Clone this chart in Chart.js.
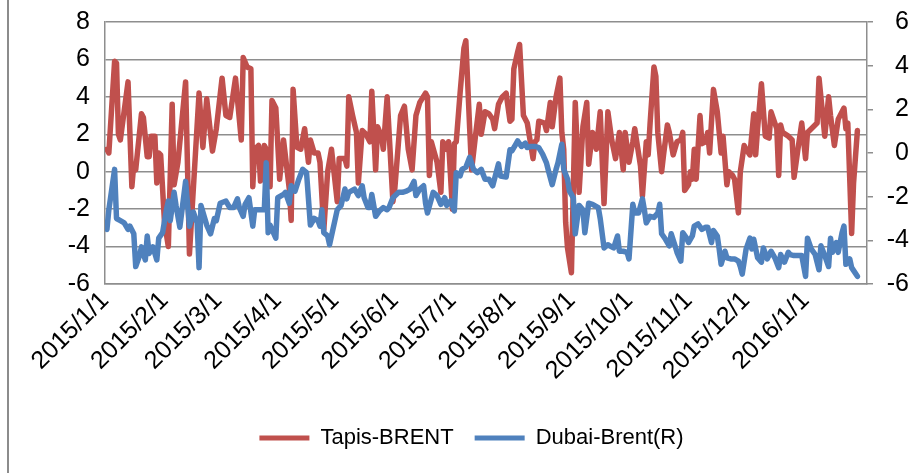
<!DOCTYPE html>
<html><head><meta charset="utf-8">
<script src="https://cdn.jsdelivr.net/npm/chart.js@4.4.1/dist/chart.umd.min.js"></script>
<style>html,body{margin:0;padding:0;background:#fff;}#wrap{position:relative;width:922px;height:473px;}</style>
</head><body><div id="wrap"><canvas id="c" width="922" height="473"></canvas></div>
<script>
// x axis: days since 2015/1/1
const monthDays = [0,31,59,90,120,151,181,212,243,273,304,334,365];
const monthLabels = ['2015/1/1','2015/2/1','2015/3/1','2015/4/1','2015/5/1','2015/6/1','2015/7/1','2015/8/1','2015/9/1','2015/10/1','2015/11/1','2015/12/1','2016/1/1'];
const leftTicks = [-6,-4,-2,0,2,4,6,8];
const rightTicks = [-6,-4,-2,0,2,4,6];

const tapisDays = [
 1,2,5,6,7,8,12,14,15,16,19,20,22,23,24,26,27,28,29,31,33,35,36,38,42,44,49,51,53,
 56,58,61,63,65,68,71,72,74,76,77,78,80,81,83,84,86,87,89,91,93,96,97,98,100,102,104,106,107,109,111,
 112,114,116,118,121,122,125,126,127,129,131,132,134,136,138,139,141,142,144,145,147,150,151,154,156,158,160,162,164,167,
 168,169,170,173,175,176,178,179,181,182,183,185,187,188,190,191,193,195,196,198,200,202,203,205,207,209,211,212,213,215,216,218,220,223,
 224,225,226,229,230,232,233,235,237,238,239,240,241,243,245,247,249,251,252,254,256,258,260,262,264,266,268,270,271,273,275,276,279,
 280,282,283,284,286,287,288,290,291,293,294,296,298,300,301,302,304,305,306,307,308,310,311,313,314,315,317,319,321,322,324,325,327,328,330,331,333,334,
 336,338,339,340,342,344,346,347,349,350,351,352,353,356,358,359,361,363,365,366,368,371,372,375,377,378,380,382,385,386,387,389,390,392
];
const tapisValues = [
 1.2,1.0,5.9,5.8,2.0,1.7,4.8,-0.8,0.4,0.1,3.1,2.9,0.8,0.8,1.9,1.9,-0.6,1.0,0.9,-2.7,-4.0,3.6,-0.7,0.5,4.8,-4.4,4.2,1.3,3.9,
 1.1,2.3,5.0,3.0,2.9,5.0,1.7,6.1,5.6,5.5,-0.8,1.2,1.4,-0.5,1.4,1.2,-0.8,3.8,3.4,-0.4,1.7,-0.9,-2.6,4.4,1.3,1.2,2.3,0.5,1.7,1.0,1.0,
 0.5,-3.1,0.0,1.2,-1.6,0.7,0.7,0.3,4.0,3.0,2.1,-0.6,2.2,2.0,1.6,4.3,0.1,2.4,1.9,1.2,4.0,-1.6,-0.9,3.0,3.5,1.2,0.1,3.0,3.7,4.2,
 4.0,-0.2,1.6,0.5,-1.1,1.6,1.2,1.6,-2.0,1.5,1.6,4.2,6.6,7.0,2.3,0.1,1.9,3.6,2.0,3.2,3.1,2.8,2.3,3.6,4.0,4.2,2.7,2.8,5.5,6.4,6.8,3.0,2.6,0.7,
 1.6,1.7,2.7,2.6,2.2,3.7,2.4,4.0,5.0,2.1,1.2,-2.7,-4.1,-5.4,3.7,-1.1,2.4,3.7,0.4,2.1,1.2,3.2,-1.7,3.2,1.7,0.7,2.1,0.1,2.1,0.5,1.6,2.3,0.3,
 -1.3,1.6,0.9,2.6,5.6,5.1,2.1,0.0,0.9,2.5,2.1,0.9,1.6,1.7,2.1,-1.0,-0.7,0.0,-0.4,1.2,-0.4,3.0,1.5,1.6,2.1,1.0,4.4,3.2,1.0,1.9,-0.7,0.0,-0.2,-0.4,-2.2,0.0,1.4,1.2,
 0.9,3.1,0.9,2.3,4.7,1.9,1.8,3.2,2.6,2.3,-0.2,2.5,2.1,1.9,1.7,-0.3,1.2,2.6,0.7,2.1,2.3,2.6,5.0,1.9,4.0,3.0,1.4,2.8,3.4,2.3,2.6,-3.3,-0.6,2.2
];

const dubaiDays = [
 1,2,5,6,8,10,12,13,15,16,18,19,21,22,23,25,27,28,30,32,33,34,36,37,39,42,44,46,48,49,50,52,53,
 55,57,58,60,63,65,67,69,70,72,73,75,77,78,80,83,84,85,86,89,90,93,94,96,97,99,101,103,105,107,109,111,
 112,113,114,116,117,120,121,123,125,126,127,130,132,134,135,137,138,139,141,143,145,147,148,150,153,155,157,159,161,162,164,166,
 167,168,171,173,175,177,178,180,182,183,185,186,188,190,192,194,196,198,200,202,205,206,209,211,212,214,215,217,219,220,222,
 224,226,228,230,231,233,235,236,238,239,241,242,244,245,247,249,250,252,254,257,258,260,262,263,265,267,268,270,272,273,275,276,278,
 280,281,282,284,286,288,289,290,292,294,295,297,298,300,301,303,304,306,307,309,311,313,314,316,317,319,320,321,323,324,326,328,330,331,332,334,
 336,337,338,340,342,343,345,347,349,351,352,354,356,357,359,361,363,365,366,368,370,372,373,375,377,378,379,381,382,384,385,386,388,389,392
];
const dubaiValues = [
 -3.5,-2.6,-0.75,-3.0,-3.1,-3.2,-3.5,-3.35,-3.7,-5.2,-4.7,-4.3,-4.9,-3.8,-4.6,-4.3,-4.9,-3.9,-3.65,-2.6,-2.2,-3.1,-1.8,-2.4,-3.4,-1.3,-3.35,-2.7,-3.2,-5.25,-2.4,-3.0,-3.3,
 -3.7,-3.0,-3.1,-2.3,-2.2,-2.5,-2.5,-2.1,-2.5,-2.9,-2.35,-2.05,-3.35,-2.6,-2.6,-2.6,-0.45,-3.65,-3.3,-3.9,-2.05,-1.9,-1.8,-2.3,-1.5,-1.75,-1.2,-0.75,-0.9,-3.3,-3.0,-3.1,
 -3.35,-2.6,-3.65,-3.8,-4.2,-3.0,-2.6,-2.4,-1.65,-2.1,-1.8,-1.65,-1.95,-1.5,-2.05,-2.5,-2.5,-1.9,-2.9,-2.65,-2.5,-2.6,-2.5,-2.05,-1.8,-1.8,-1.75,-1.65,-1.3,-1.95,-1.65,-1.5,
 -2.3,-2.75,-1.8,-1.95,-2.35,-2.05,-2.4,-2.2,-2.65,-0.9,-1.05,-0.75,-0.65,-0.2,-0.75,-0.9,-0.75,-1.2,-1.2,-1.5,-0.5,-1.05,-1.1,0.15,0.1,0.4,0.55,0.3,0.45,0.25,0.3,
 0.3,0.25,-0.05,-0.45,-0.8,-1.45,-0.75,-0.45,0.4,-0.75,-1.2,-1.75,-2.05,-3.7,-2.4,-2.6,-3.65,-2.3,-2.35,-2.5,-3.0,-4.35,-4.2,-4.25,-4.35,-3.8,-4.5,-4.5,-4.55,-4.85,-2.35,-2.75,-2.75,
 -2.1,-2.6,-3.2,-2.9,-2.95,-2.75,-2.35,-3.7,-3.95,-4.25,-3.7,-4.25,-4.55,-4.95,-3.65,-3.9,-4.1,-3.8,-3.35,-3.25,-3.5,-3.4,-3.4,-4.1,-3.55,-3.8,-4.4,-5.1,-4.5,-4.8,-4.85,-4.85,-4.95,-5.2,-5.55,-4.4,
 -3.9,-4.4,-3.95,-4.8,-5.0,-4.35,-4.85,-4.5,-4.8,-5.25,-4.65,-5.0,-4.55,-4.65,-4.7,-4.7,-4.7,-5.65,-3.9,-4.4,-4.65,-5.35,-4.25,-4.7,-5.2,-3.9,-4.55,-4.1,-4.55,-3.65,-3.35,-5.1,-4.85,-5.25,-5.65
];

const FONT = {family: '"Liberation Sans", Arial, sans-serif', size: 25};
const LEGEND_FONT = {family: '"Liberation Sans", Arial, sans-serif', size: 22};
const GRID = '#8e8e8e';

const framePlugin = {
  id: 'frame',
  afterDraw(chart) {
    const c = chart.ctx;
    c.save();
    c.strokeStyle = '#8c8c8c';
    c.lineWidth = 2;
    c.beginPath(); c.moveTo(8, 0); c.lineTo(8, chart.height); c.stroke();
    c.restore();
  }
};

new Chart(document.getElementById('c'), {
  type: 'line',
  data: {
    datasets: [
      {label: 'Tapis-BRENT', data: tapisDays.map((d, i) => ({x: d, y: tapisValues[i]})),
       borderColor: '#C0504D', backgroundColor: '#C0504D', borderWidth: 5.5, pointRadius: 0,
       borderJoinStyle: 'round', borderCapStyle: 'round', yAxisID: 'y', order: 2, tension: 0},
      {label: 'Dubai-Brent(R)', data: dubaiDays.map((d, i) => ({x: d, y: dubaiValues[i]})),
       borderColor: '#4F81BD', backgroundColor: '#4F81BD', borderWidth: 5.5, pointRadius: 0,
       borderJoinStyle: 'round', borderCapStyle: 'round', yAxisID: 'y1', order: 1, tension: 0}
    ]
  },
  options: {
    responsive: false,
    animation: false,
    layout: {padding: {left: 34, right: 13, top: 22, bottom: 14}},
    plugins: {
      tooltip: {enabled: false},
      legend: {
        position: 'bottom',
        maxHeight: 54,
        labels: {
          font: LEGEND_FONT, color: '#000', boxWidth: 50, boxHeight: 5, padding: 21,
          sort: (a, b) => a.datasetIndex - b.datasetIndex,
          generateLabels(chart) {
            const items = Chart.defaults.plugins.legend.labels.generateLabels(chart);
            items.forEach(it => { it.lineWidth = 0; it.fillStyle = it.strokeStyle; });
            return items;
          }
        }
      }
    },
    scales: {
      x: {
        type: 'linear', position: 'bottom', min: 0, max: 397,
        afterBuildTicks(s) { s.ticks = monthDays.map(v => ({value: v})); },
        afterFit(s) { s.height = 122; },
        ticks: {autoSkip: false, maxRotation: 45, minRotation: 45, padding: 2, color: '#000', font: FONT,
                callback: (v, i) => monthLabels[i]},
        grid: {display: false, drawTicks: false},
        border: {display: true, color: GRID, width: 1.5}
      },
      y: {
        type: 'linear', position: 'left', min: -6, max: 8,
        afterBuildTicks(s) { s.ticks = leftTicks.map(v => ({value: v})); },
        afterFit(s) { s.width = 71; },
        ticks: {color: '#000', font: FONT, padding: 7},
        grid: {color: GRID, lineWidth: 1.5, drawTicks: true, tickLength: 8, tickColor: 'rgba(0,0,0,0)'},
        border: {display: true, color: GRID, width: 1.5}
      },
      y1: {
        type: 'linear', position: 'right', min: -6, max: 6,
        afterBuildTicks(s) { s.ticks = rightTicks.map(v => ({value: v})); },
        afterFit(s) { s.width = 42; },
        ticks: {color: '#000', font: FONT, padding: 6, crossAlign: 'far'},
        grid: {drawOnChartArea: false, drawTicks: true, tickLength: 6, color: GRID, lineWidth: 1.5},
        border: {display: true, color: GRID, width: 1.5}
      }
    }
  },
  plugins: [framePlugin]
});
</script>
</body></html>
